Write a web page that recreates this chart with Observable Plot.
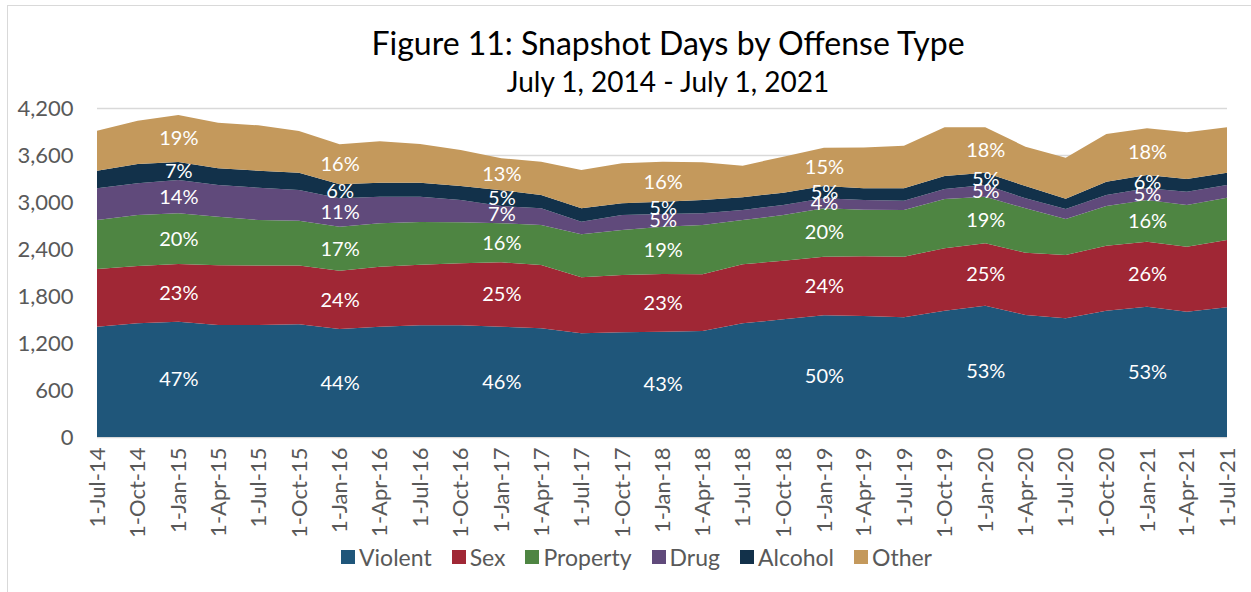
<!DOCTYPE html>
<html>
<head>
<meta charset="utf-8">
<script src="https://cdn.jsdelivr.net/npm/d3@7"></script>
<script src="https://cdn.jsdelivr.net/npm/@observablehq/plot@0.6"></script>
<style>
  html, body { margin: 0; padding: 0; background: #fff; }
  #wrap { position: relative; width: 1251px; height: 592px; overflow: hidden; font-family: Lato, "Open Sans", sans-serif; }
  #frame { position: absolute; left: 7px; top: 5px; width: 1400px; height: 800px; border: 1.5px solid #d9d9d9; box-sizing: border-box; }
  .title { position: absolute; left: 0; width: 1336px; text-align: center; color: #000; white-space: nowrap; }
  #t1 { top: 23px; font-size: 32px; }
  #t2 { top: 64px; font-size: 28px; }
  #chart { position: absolute; left: 0; top: 95px; }
  #legend { position: absolute; left: 341px; top: 543px; display: flex; align-items: center; font-size: 23px; color: #595959; white-space: nowrap; }
  #legend .item { display: flex; align-items: center; margin-right: 20px; }
  #legend .sw { width: 14px; height: 14px; margin-right: 4px; }
</style>
</head>
<body>
<div id="wrap">
  <div id="frame"></div>
  <div class="title" id="t1">Figure 11: Snapshot Days by Offense Type</div>
  <div class="title" id="t2">July 1, 2014 - July 1, 2021</div>
  <div id="chart"></div>
  <div id="legend"></div>
</div>
<script>
const dates = ["2014-07-01","2014-10-01","2015-01-01","2015-04-01","2015-07-01","2015-10-01",
  "2016-01-01","2016-04-01","2016-07-01","2016-10-01","2017-01-01","2017-04-01","2017-07-01",
  "2017-10-01","2018-01-01","2018-04-01","2018-07-01","2018-10-01","2019-01-01","2019-04-01",
  "2019-07-01","2019-10-01","2020-01-01","2020-04-01","2020-07-01","2020-10-01","2021-01-01",
  "2021-04-01","2021-07-01"];
const tickLabels = ["1-Jul-14","1-Oct-14","1-Jan-15","1-Apr-15","1-Jul-15","1-Oct-15",
  "1-Jan-16","1-Apr-16","1-Jul-16","1-Oct-16","1-Jan-17","1-Apr-17","1-Jul-17",
  "1-Oct-17","1-Jan-18","1-Apr-18","1-Jul-18","1-Oct-18","1-Jan-19","1-Apr-19",
  "1-Jul-19","1-Oct-19","1-Jan-20","1-Apr-20","1-Jul-20","1-Oct-20","1-Jan-21",
  "1-Apr-21","1-Jul-21"];
const types = ["Violent","Sex","Property","Drug","Alcohol","Other"];
const colors = ["#1f567a","#a02735","#4e8542","#604a7b","#12314a","#c4995c"];

const violent  = [1408,1451,1472,1430,1430,1438,1379,1408,1426,1426,1408,1387,1324,1336,1345,1353,1451,1502,1553,1545,1528,1613,1676,1557,1515,1613,1664,1600,1656];
const sex      = [737,732,737,762,759,751,744,766,774,791,822,809,715,732,736,724,753,749,749,761,774,796,797,796,808,829,830,830,859];
const property = [625,651,647,621,581,573,562,554,545,524,500,511,548,575,604,630,566,583,617,594,596,629,595,566,460,507,532,532,540];
const drug     = [405,405,425,404,413,391,362,340,323,285,219,212,162,191,162,149,128,128,128,126,119,128,149,128,128,141,149,170,162];
const alcohol  = [225,246,230,213,217,221,179,179,179,178,201,171,170,149,157,170,162,157,157,149,158,166,157,157,131,169,170,162,157];
const other    = [510,553,600,583,579,532,511,528,493,460,408,425,490,511,511,481,404,460,490,520,544,621,579,502,524,609,595,595,579];

// percentage labels shown on each 1-Jan date
const labelDates = ["2015-01-01","2016-01-01","2017-01-01","2018-01-01","2019-01-01","2020-01-01","2021-01-01"];
const violentPct  = ["47%","44%","46%","43%","50%","53%","53%"];
const sexPct      = ["23%","24%","25%","23%","24%","25%","26%"];
const propertyPct = ["20%","17%","16%","19%","20%","19%","16%"];
const drugPct     = ["14%","11%","7%","5%","4%","5%","5%"];
const alcoholPct  = ["7%","6%","5%","5%","5%","5%","6%"];
const otherPct    = ["19%","16%","13%","16%","15%","18%","18%"];

const yTicks = [0,600,1200,1800,2400,3000,3600,4200];

const seriesVals = [violent, sex, property, drug, alcohol, other];
const seriesPct = [violentPct, sexPct, propertyPct, drugPct, alcoholPct, otherPct];

const parse = d3.utcParse("%Y-%m-%d");
const rows = [];
types.forEach((t, k) => {
  dates.forEach((d, i) => {
    const li = labelDates.indexOf(d);
    rows.push({date: parse(d), type: t, value: seriesVals[k][i], label: li >= 0 ? seriesPct[k][li] : null});
  });
});
const labelMap = new Map(dates.map((d, i) => [+parse(d), tickLabels[i]]));

const chart = Plot.plot({
  width: 1251,
  height: 445,
  marginTop: 13,
  marginBottom: 103,
  marginLeft: 97,
  marginRight: 24,
  style: {fontFamily: "Lato, 'Open Sans', sans-serif", background: "transparent", color: "#595959"},
  x: {type: "utc", domain: [parse(dates[0]), parse(dates[dates.length - 1])]},
  y: {domain: [0, 4200]},
  color: {domain: types, range: colors},
  marks: [
    Plot.gridY(yTicks, {stroke: "#d9d9d9", strokeOpacity: 1, strokeWidth: 1.5}),
    Plot.areaY(rows, {x: "date", y: "value", fill: "type", order: types}),
    Plot.text(rows.filter(d => d.label), Plot.stackY({x: "date", y: "value", z: "type", order: types, text: "label", fill: "white", fontSize: 20})),
    Plot.axisY(yTicks, {tickSize: 0, tickPadding: 24, tickFormat: d3.format(","), fontSize: 22, fill: "#595959", label: null}),
    Plot.axisX(dates.map(parse), {tickSize: 0, tickPadding: 10, tickRotate: -90, tickFormat: d => labelMap.get(+d), fontSize: 22, fill: "#595959", label: null})
  ]
});
document.getElementById("chart").appendChild(chart);

const legend = document.getElementById("legend");
types.forEach((t, k) => {
  const it = document.createElement("div");
  it.className = "item";
  const sw = document.createElement("div");
  sw.className = "sw";
  sw.style.background = colors[k];
  const tx = document.createElement("span");
  tx.textContent = t;
  it.appendChild(sw); it.appendChild(tx);
  legend.appendChild(it);
});
</script>
</body>
</html>
